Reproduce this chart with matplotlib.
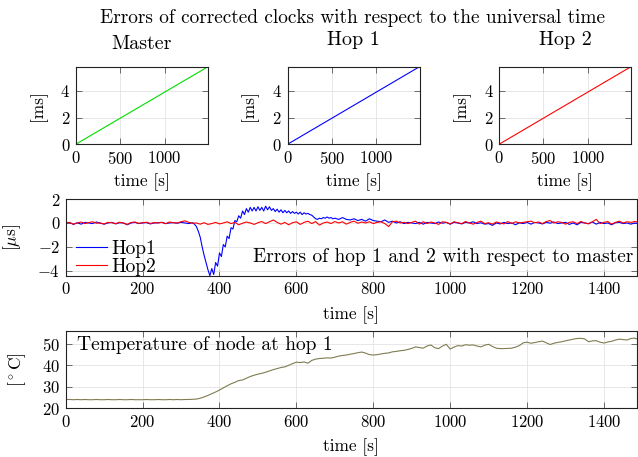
import numpy as np
import matplotlib
matplotlib.use("Agg")
import matplotlib.pyplot as plt

plt.rcParams['font.family'] = ['cmr10', 'DejaVu Serif']
plt.rcParams['mathtext.fontset'] = 'cm'
plt.rcParams['axes.formatter.use_mathtext'] = True
plt.rcParams['font.size'] = 12

# ---- data ----
t_end = 1486
clock_t = [0, 1486]
clock_err = [0, 5.8]  # [ms], linear drift

t10 = np.arange(0, 1491, 10)

hop2_err = [
    0.05, 0.02, -0.1, 0.0, 0.08, -0.05, 0.03, 0.1, -0.02, 0.0,
    -0.08, 0.05, 0.02, -0.05, 0.06, 0.0, -0.12, 0.04, 0.08, -0.03,
    0.02, 0.06, -0.04, 0.03, 0.0, 0.05, -0.06, 0.08, 0.02, 0.0,
    0.1, 0.18, 0.05, -0.02, 0.0, -0.1, 0.02, -0.12, -0.05, 0.05,
    -0.08, 0.0, 0.1, -0.05, 0.05, -0.15, -0.02, 0.08, 0.0, -0.12,
    0.02, 0.12, -0.05, 0.1, 0.25, 0.05, -0.1, 0.05, -0.15, 0.02,
    0.1, -0.12, 0.05, 0.15, -0.05, 0.12, -0.18, 0.0, 0.08, -0.05,
    0.12, 0.0, 0.1, -0.1, 0.05, 0.15, -0.02, 0.08, 0.0, 0.1,
    -0.05, 0.05, 0.1, -0.05, -0.3, 0.1, 0.15, 0.0, 0.05, -0.05,
    0.05, 0.15, -0.1, 0.1, -0.05, 0.08, 0.0, -0.12, 0.1, 0.05,
    -0.08, 0.1, 0.02, -0.05, 0.12, 0.0, -0.1, 0.05, 0.15, -0.05,
    0.02, -0.1, 0.08, 0.0, -0.08, 0.12, -0.05, 0.1, 0.0, 0.05,
    0.1, 0.15, 0.02, 0.08, -0.05, 0.12, 0.2, 0.0, 0.1, 0.05,
    -0.1, 0.05, 0.1, -0.05, 0.12, 0.0, -0.08, 0.1, 0.3, -0.05,
    0.05, 0.12, -0.1, 0.05, 0.15, 0.0, 0.1, 0.05, 0.12, 0.08,
]

# hop1: 10 s steps, 5 s steps around the disturbance, 10 s steps after
hop1_t = np.concatenate([np.arange(0, 331, 10), np.arange(335, 701, 5), np.arange(710, 1491, 10)])
hop1_err = [
    # 0 - 330
    0.0, 0.05, -0.12, 0.02, -0.1, 0.05, 0.0, -0.05, 0.08, -0.02,
    -0.1, 0.0, 0.05, -0.08, 0.02, 0.0, -0.15, 0.0, 0.05, -0.05,
    0.0, 0.03, -0.08, 0.0, 0.02, 0.05, -0.05, 0.0, 0.03, -0.02,
    0.05, 0.0, -0.05, 0.02,
    # 335 - 700
    -0.1, -0.3, -0.7, -1.2, -2.0, -2.7, -3.3, -3.9, -4.4, -3.8,
    -4.3, -3.3, -3.6, -2.5, -2.8, -1.8, -2.0, -1.1, -1.3, -0.4,
    -0.5, 0.2, 0.1, 0.6, 0.4, 1.0, 0.7, 1.2, 0.9, 1.3,
    1.0, 1.3, 1.0, 1.35, 1.05, 1.3, 1.0, 1.4, 1.1, 1.35,
    1.05, 1.2, 0.95, 1.15, 0.9, 1.1, 0.85, 1.05, 0.85, 1.0,
    0.8, 0.95, 0.8, 0.9, 0.75, 0.9, 0.7, 0.85, 0.75, 0.8,
    0.7, 0.65, 0.5, 0.35, 0.3, 0.4, 0.35, 0.45, 0.4, 0.5,
    0.4, 0.45, 0.35, 0.4,
    # 710 - 1490
    0.3, 0.45, 0.3, 0.25, 0.35, 0.2, 0.3, 0.15, 0.35, 0.2,
    0.15, 0.1, 0.25, 0.05, 0.15, 0.0, 0.1, -0.05, 0.05, 0.0,
    -0.05, 0.05, -0.1, 0.05, 0.0, -0.05, 0.08, -0.02, 0.05, -0.1,
    0.05, 0.0, -0.08, 0.05, 0.0, 0.1, -0.05, 0.02, -0.1, -0.05,
    -0.2, 0.0, -0.08, 0.05, -0.05, 0.0, -0.15, 0.02, -0.05, 0.05,
    -0.1, 0.05, 0.0, -0.08, 0.05, -0.02, 0.08, -0.05, 0.0, 0.05,
    -0.12, 0.0, -0.15, 0.05, 0.0, -0.05, 0.08, -0.1, 0.05, -0.05,
    0.0, -0.15, 0.02, 0.05, -0.05, 0.0, -0.1, 0.0, -0.05,
]

temp = [
    24.1, 24.1, 24.0, 24.1, 24.0, 24.1, 24.0, 24.0, 24.1, 24.0,
    24.0, 24.1, 24.0, 24.0, 24.1, 24.0, 24.0, 24.1, 24.0, 24.0,
    24.0, 24.1, 24.0, 24.0, 24.1, 24.0, 24.0, 24.1, 24.0, 24.1,
    24.0, 24.1, 24.1, 24.2, 24.3, 24.7, 25.3, 26.0, 26.8, 27.6,
    28.5, 29.5, 30.5, 31.4, 32.1, 32.9, 33.2, 34.0, 34.8, 35.4,
    35.9, 36.3, 36.8, 37.4, 38.0, 38.5, 39.0, 39.3, 40.0, 40.8,
    41.5, 41.3, 41.6, 41.0, 42.3, 42.9, 43.2, 43.3, 43.5, 43.4,
    43.8, 44.3, 44.6, 44.8, 45.2, 45.5, 45.9, 46.2, 45.7, 45.0,
    44.8, 45.0, 45.3, 45.6, 45.8, 46.3, 46.5, 46.8, 47.0, 47.4,
    47.9, 48.6, 48.3, 48.0, 49.0, 49.5, 48.2, 47.8, 49.0, 49.8,
    47.6, 48.5, 49.2, 49.0, 49.6, 49.4, 49.5, 49.0, 48.6, 49.4,
    49.8, 48.8, 48.0, 47.8, 47.8, 47.9, 48.0, 48.5, 49.2, 50.5,
    50.8, 50.3, 50.6, 51.0, 51.3, 50.5, 49.7, 50.3, 50.7, 51.0,
    51.4, 51.8, 52.2, 52.5, 52.6, 52.3, 51.0, 51.4, 51.5, 50.8,
    50.4, 50.9, 51.2, 51.8, 52.2, 52.0, 51.8, 52.5, 52.7, 52.0,
]

W, H = 638, 457
fig = plt.figure(figsize=(W / 100, H / 100), dpi=100)


def box(l, r, t, b):
    return [l / W, 1 - b / H, (r - l) / W, (b - t) / H]


def style(ax):
    ax.grid(True, color='#e3e3e3', lw=0.6)
    ax.set_axisbelow(True)
    ax.tick_params(direction='in', length=4, width=0.6, color='#555555',
                   top=True, right=True, pad=4)
    for s in ax.spines.values():
        s.set_linewidth(0.8)
        s.set_color('#222222')


# top row: clock errors
tops = [('Master', '#00dd00', 75.7, 208, 12.5), ('Hop 1', '#0000ff', 287.5, 419.5, 15.4),
        ('Hop 2', '#ff0000', 499, 631, 15.4)]
for name, col, l, r, tpad in tops:
    ax = fig.add_axes(box(l, r, 66.7, 144.3))
    ax.plot(clock_t, clock_err, color=col, lw=0.8)
    ax.set_xlim(0, t_end)
    ax.set_ylim(0, 5.8)
    ax.set_xticks([0, 500, 1000])
    ax.set_yticks([0, 2, 4])
    style(ax)
    ax.set_title(name, pad=tpad, va='baseline', fontsize=14.4)
    ax.set_ylabel('[ms]', fontsize=12.5)
    ax.yaxis.set_label_coords(-0.22, 0.5)
    ax.set_xlabel('time [s]', fontsize=12.5)
    ax.xaxis.set_label_coords(0.5, -0.37)

fig.text(352.6 / W, 1 - 22.7 / H, 'Errors of corrected clocks with respect to the universal time',
         ha='center', va='baseline', fontsize=13.9)

# middle: hop errors
ax = fig.add_axes(box(65.7, 637, 199, 275.7))
ax.plot(hop1_t, hop1_err, color='#0000ff', lw=0.8, label='Hop1')
ax.plot(t10, hop2_err, color='#ff0000', lw=0.8, label='Hop2')
ax.set_xlim(0, t_end)
ax.set_ylim(-4.4, 2)
ax.set_xticks(range(0, 1401, 200))
ax.set_yticks([-4, -2, 0, 2])
style(ax)
ax.set_ylabel(r'[$\mu$s]', fontsize=12.5)
ax.yaxis.set_label_coords(-0.075, 0.5)
ax.set_xlabel('time [s]', fontsize=12.5)
ax.xaxis.set_label_coords(0.5, -0.40)
ax.legend(loc='lower left', bbox_to_anchor=(0.018, 0.0), frameon=False, fontsize=14,
          handlelength=1.6, handletextpad=0.2, labelspacing=0.0,
          borderaxespad=0, borderpad=0)
ax.text(0.993, 0.25, 'Errors of hop 1 and 2 with respect to master',
        transform=ax.transAxes, ha='right', va='center', fontsize=14)

# bottom: temperature
ax = fig.add_axes(box(65.7, 637, 331, 408.3))
ax.plot(t10, temp, color='#807c52', lw=0.8)
ax.set_xlim(0, t_end)
ax.set_ylim(20, 56)
ax.set_xticks(range(0, 1401, 200))
ax.set_yticks([20, 30, 40, 50])
style(ax)
ax.set_ylabel(r'[$^\circ$C]', fontsize=12.5)
ax.yaxis.set_label_coords(-0.066, 0.5)
ax.set_xlabel('time [s]', fontsize=12.5)
ax.xaxis.set_label_coords(0.5, -0.385)
ax.text(0.02, 0.82, 'Temperature of node at hop 1', transform=ax.transAxes,
        ha='left', va='center', fontsize=14)

fig.savefig('out.png', dpi=100)
